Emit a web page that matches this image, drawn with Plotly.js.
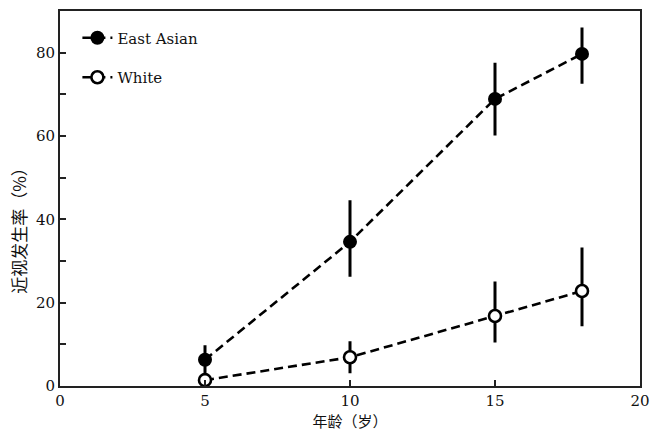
<!DOCTYPE html>
<html>
<head>
<meta charset="utf-8">
<script src="https://cdn.plot.ly/plotly-3.0.1.min.js"></script>
<style>html,body{margin:0;padding:0;background:#fff;}#chart{width:653px;height:443px;}</style>
</head>
<body>
<div id="chart"></div>
<script>
const ages = [5, 10, 15, 18];
const eastAsian = [6.3, 34.6, 68.9, 79.7];
const eastAsianErrPlus = [3.1, 9.6, 8.3, 6.0];
const eastAsianErrMinus = [3.0, 8.0, 8.4, 6.8];
const white = [1.4, 6.9, 16.8, 22.8];
const whiteErrPlus = [0.8, 3.5, 7.9, 10.1];
const whiteErrMinus = [0.8, 3.5, 6.0, 8.1];
const xTicks = [0, 5, 10, 15, 20];
const yTicks = [0, 20, 40, 60, 80];
const seriesNames = ['East Asian', 'White'];

const serif = 'DejaVu Serif';
const cjk = 'Noto Sans CJK SC';

const traces = [
  {
    x: ages, y: eastAsian, name: seriesNames[0], legendgroup: 'a',
    type: 'scatter', mode: 'lines+markers',
    line: {color: '#000', width: 2.6, dash: '9px,5px'},
    marker: {symbol: 'circle', size: 14, color: '#000', line: {color: '#000', width: 0}},
    error_y: {type: 'data', symmetric: false, array: eastAsianErrPlus, arrayminus: eastAsianErrMinus,
              color: '#000', thickness: 3, width: 1.5}
  },
  {
    x: ages, y: white, name: seriesNames[1], legendgroup: 'b',
    type: 'scatter', mode: 'lines+markers',
    line: {color: '#000', width: 2.6, dash: '9px,5px'},
    marker: {symbol: 'circle', size: 12, color: '#fff', line: {color: '#000', width: 2.6}},
    error_y: {type: 'data', symmetric: false, array: whiteErrPlus, arrayminus: whiteErrMinus,
              color: '#000', thickness: 3, width: 1.5}
  }
];

const layout = {
  width: 653, height: 443,
  margin: {l: 60, r: 13, t: 11, b: 57},
  paper_bgcolor: '#fff', plot_bgcolor: '#fff',
  font: {family: serif, size: 15, color: '#111'},
  showlegend: true,
  legend: {x: 0.03, y: 0.972, xanchor: 'left', yanchor: 'top', bgcolor: 'rgba(0,0,0,0)',
           font: {family: serif, size: 15, color: '#111'}, traceorder: 'grouped', tracegroupgap: 17,
           itemwidth: 30},
  xaxis: {
    range: [0, 20], tickvals: xTicks, ticktext: xTicks.map(String),
    ticks: 'inside', ticklen: 6, tickwidth: 2, tickcolor: '#222',
    showline: true, linecolor: '#222', linewidth: 2, mirror: true,
    showgrid: false, zeroline: false,
    tickfont: {family: serif, size: 15, color: '#111'},
    title: {text: '年龄（岁）', font: {family: cjk, size: 15, color: '#111'}, standoff: 6}
  },
  yaxis: {
    range: [0, 90], tickvals: yTicks, ticktext: yTicks.map(String),
    ticks: 'inside', ticklen: 6, tickwidth: 2, tickcolor: '#222',
    minor: {dtick: 10, ticks: 'inside', ticklen: 6, tickwidth: 2, tickcolor: '#222'},
    showline: true, linecolor: '#222', linewidth: 2, mirror: true,
    showgrid: false, zeroline: false,
    tickfont: {family: serif, size: 15, color: '#111'}
  },
  annotations: [{
    text: '近视发生率（%）', xref: 'paper', yref: 'paper', x: -0.072, y: 0.425,
    xanchor: 'center', yanchor: 'middle', textangle: -90, showarrow: false,
    font: {family: cjk, size: 17, color: '#111'}
  }]
};

Plotly.newPlot('chart', traces, layout, {displayModeBar: false, staticPlot: true});
</script>
</body>
</html>
